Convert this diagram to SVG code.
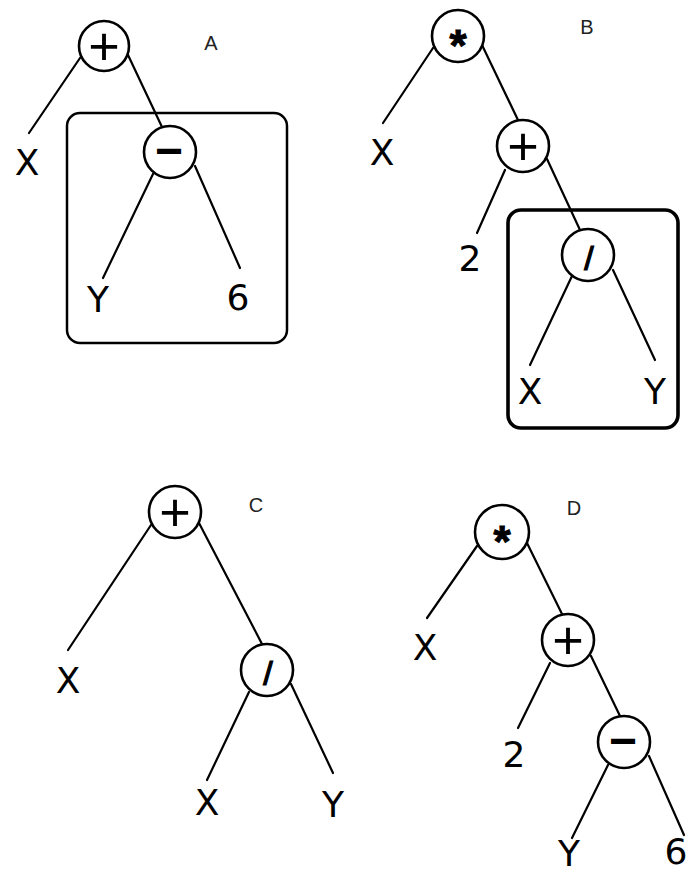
<svg xmlns="http://www.w3.org/2000/svg" width="690" height="874" viewBox="0 0 690 874">
<style>
.bg{fill:#ffffff}
.edge{stroke:#000;stroke-width:2.2;stroke-linecap:round;fill:none}
.op{fill:#fff;stroke:#000;stroke-width:2.6}
.box{fill:none;stroke:#000}
.leaf{font-family:"DejaVu Sans","Liberation Sans",sans-serif;font-size:36px;fill:#000;text-anchor:middle}
.plus{font-family:"Liberation Sans",Arial,sans-serif;font-size:54px;fill:#000;text-anchor:middle;dominant-baseline:central}
.minus{font-family:"Liberation Sans",Arial,sans-serif;font-size:48px;font-weight:bold;fill:#000;text-anchor:middle;dominant-baseline:central}
.star{font-family:"Liberation Sans",Arial,sans-serif;font-size:44px;font-weight:bold;fill:#000;stroke:#000;stroke-width:1;text-anchor:middle}
.slash{font-family:"Liberation Sans",Arial,sans-serif;font-size:34px;fill:#000;stroke:#000;stroke-width:1.2;text-anchor:middle;dominant-baseline:central}
.lbl{font-family:"Liberation Sans",Arial,sans-serif;font-size:20px;fill:#222;text-anchor:middle}
</style>
<rect class="bg" x="0" y="0" width="690" height="874"/>

<g id="boxes">
<rect class="box" x="67" y="113" width="220" height="230" rx="13" stroke-width="2.5"/>
<rect class="box" x="508" y="210" width="170" height="218" rx="13" stroke-width="3.6"/>
</g>

<g id="connectors">
<!-- A -->
<line class="edge" x1="80" y1="58" x2="29" y2="133"/>
<line class="edge" x1="128" y1="55" x2="162" y2="127"/>
<line class="edge" x1="153" y1="174" x2="103" y2="278"/>
<line class="edge" x1="195" y1="166" x2="240" y2="268"/>
<!-- B -->
<line class="edge" x1="433" y1="48" x2="383" y2="123"/>
<line class="edge" x1="482" y1="45" x2="518" y2="120"/>
<line class="edge" x1="505" y1="170" x2="477" y2="233"/>
<line class="edge" x1="547" y1="159" x2="580" y2="230"/>
<line class="edge" x1="572" y1="276" x2="530" y2="365"/>
<line class="edge" x1="613" y1="270" x2="655" y2="360"/>
<!-- C -->
<line class="edge" x1="151" y1="525" x2="68" y2="650"/>
<line class="edge" x1="199" y1="523" x2="262" y2="644"/>
<line class="edge" x1="249" y1="692" x2="207" y2="780"/>
<line class="edge" x1="291" y1="684" x2="333" y2="773"/>
<!-- D -->
<line class="edge" x1="477" y1="546" x2="427" y2="618"/>
<line class="edge" x1="526" y1="541" x2="562" y2="614"/>
<line class="edge" x1="550" y1="663" x2="518" y2="728"/>
<line class="edge" x1="591" y1="656" x2="620" y2="716"/>
<line class="edge" x1="608" y1="765" x2="572" y2="838"/>
<line class="edge" x1="649" y1="756" x2="684" y2="835"/>
</g>

<!-- Tree A -->
<g id="A-plus"><circle class="op" cx="104" cy="46" r="25"/><text class="plus" x="104" y="46">+</text></g>
<g id="A-x"><text class="leaf" x="27" y="175">X</text></g>
<g id="A-minus"><circle class="op" cx="170" cy="152" r="26"/><text class="minus" x="169" y="150">−</text></g>
<g id="A-y"><text class="leaf" x="98" y="312">Y</text></g>
<g id="A-6"><text class="leaf" x="238" y="310">6</text></g>
<g id="label-A"><text class="lbl" x="211" y="50">A</text></g>

<!-- Tree B -->
<g id="B-star"><circle class="op" cx="458" cy="36" r="26"/><text class="star" x="458" y="61">*</text></g>
<g id="B-x"><text class="leaf" x="382" y="165">X</text></g>
<g id="B-plus"><circle class="op" cx="523" cy="146" r="26"/><text class="plus" x="523" y="146">+</text></g>
<g id="B-2"><text class="leaf" x="470" y="271">2</text></g>
<g id="B-slash"><circle class="op" cx="588" cy="255" r="26"/><text class="slash" x="589" y="258">/</text></g>
<g id="B-x2"><text class="leaf" x="530" y="404">X</text></g>
<g id="B-y"><text class="leaf" x="655" y="404">Y</text></g>
<g id="label-B"><text class="lbl" x="587" y="34">B</text></g>

<!-- Tree C -->
<g id="C-plus"><circle class="op" cx="175" cy="512" r="26"/><text class="plus" x="175" y="512">+</text></g>
<g id="C-x"><text class="leaf" x="68" y="693">X</text></g>
<g id="C-slash"><circle class="op" cx="267" cy="670" r="26"/><text class="slash" x="268" y="673">/</text></g>
<g id="C-x2"><text class="leaf" x="207" y="815">X</text></g>
<g id="C-y"><text class="leaf" x="333" y="817">Y</text></g>
<g id="label-C"><text class="lbl" x="256" y="512">C</text></g>

<!-- Tree D -->
<g id="D-star"><circle class="op" cx="502" cy="532" r="27"/><text class="star" x="502" y="557">*</text></g>
<g id="D-x"><text class="leaf" x="425" y="660">X</text></g>
<g id="D-plus"><circle class="op" cx="568" cy="640" r="26"/><text class="plus" x="568" y="640">+</text></g>
<g id="D-2"><text class="leaf" x="514" y="767">2</text></g>
<g id="D-minus"><circle class="op" cx="624" cy="742" r="26"/><text class="minus" x="623" y="740">−</text></g>
<g id="D-y"><text class="leaf" x="569" y="866">Y</text></g>
<g id="D-6"><text class="leaf" x="676" y="864">6</text></g>
<g id="label-D"><text class="lbl" x="574" y="515">D</text></g>
</svg>
